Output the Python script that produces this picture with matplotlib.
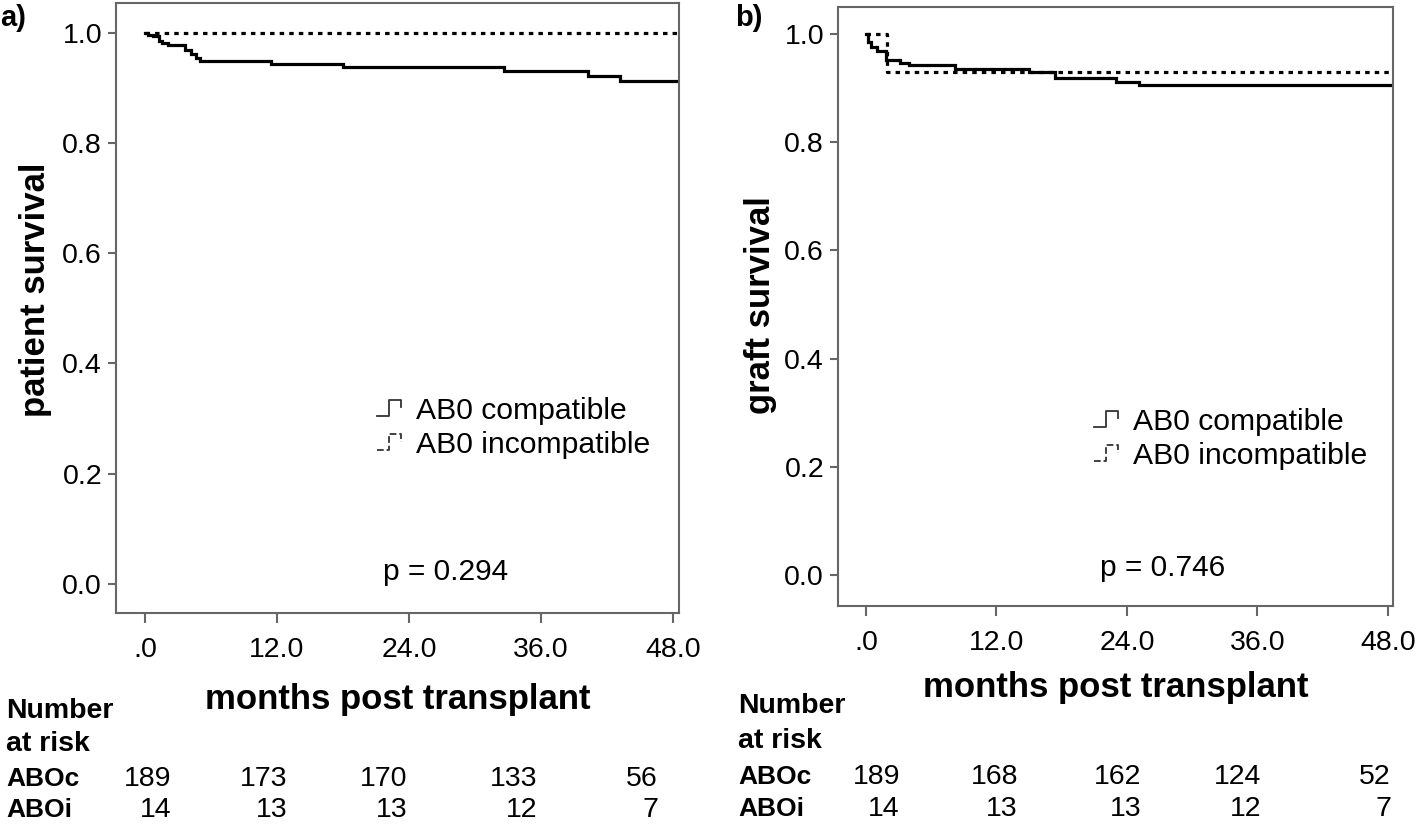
import matplotlib
matplotlib.use("Agg")
import matplotlib.pyplot as plt
from matplotlib.lines import Line2D
from matplotlib.legend_handler import HandlerBase

plt.rcParams['font.family'] = ['Liberation Sans', 'DejaVu Sans']

# ---------------- data ----------------
xticks = [0, 12, 24, 36, 48]
xticklabels = ['.0', '12.0', '24.0', '36.0', '48.0']
yticks = [0.0, 0.2, 0.4, 0.6, 0.8, 1.0]
yticklabels = ['0.0', '0.2', '0.4', '0.6', '0.8', '1.0']

# panel a: patient survival
a_c_time = [0, 0.3, 0.75, 1.24, 1.56, 2.05, 3.67, 4.16, 4.64, 4.97, 11.45, 18.0, 32.6, 40.3, 43.2, 48.5]
a_c_surv = [1.0, 0.996, 0.9935, 0.9857, 0.9818, 0.977, 0.969, 0.961, 0.955, 0.949, 0.944, 0.938, 0.931, 0.922, 0.912, 0.912]
a_i_time = [0, 48.5]
a_i_surv = [1.0, 1.0]
a_p = 'p = 0.294'

# panel b: graft survival
b_c_time = [0, 0.17, 0.5, 0.99, 1.81, 3.13, 3.94, 8.2, 14.95, 17.4, 23.0, 25.1, 48.5]
b_c_surv = [1.0, 0.985, 0.9756, 0.969, 0.9525, 0.947, 0.9426, 0.936, 0.9294, 0.918, 0.9115, 0.906, 0.906]
b_i_time = [0, 1.98, 48.5]
b_i_surv = [1.0, 0.929, 0.929]
b_p = 'p = 0.746'

groups = ['AB0 compatible', 'AB0 incompatible']
risk_rows = ['ABOc', 'ABOi']
a_risk_c = [189, 173, 170, 133, 56]
a_risk_i = [14, 13, 13, 12, 7]
b_risk_c = [189, 168, 162, 124, 52]
b_risk_i = [14, 13, 13, 12, 7]

# ---------------- layout ----------------
W, H = 1418, 824
fig = plt.figure(figsize=(W / 100, H / 100), dpi=100)

def fx(px):
    return px / W

def fy(py):
    return 1 - py / H

SPINE = '#666666'

class StepHandler(HandlerBase):
    def create_artists(self, legend, orig_handle, xdescent, ydescent,
                       width, height, fontsize, trans):
        xs = [-xdescent + width * f for f in (0.0, 0.5, 0.5, 1.0, 1.0)]
        ys = [-ydescent + height * f for f in (0.15, 0.15, 0.9, 0.9, 0.55)]
        ln = Line2D(xs, ys, color='#333333', linewidth=1.3,
                    linestyle=orig_handle.get_linestyle(), transform=trans)
        return [ln]


def panel(box, xlim, ylim, c_t, c_s, i_t, i_s, ylabel, ylab_xy, xlab_xy,
          leg_xy, p_text, p_xy, tag, tag_xy, risk_c, risk_i, cols, row_y,
          head_x):
    l, t, r, b = box
    ax = fig.add_axes([fx(l), fy(b), fx(r) - fx(l), fy(t) - fy(b)])
    ax.plot(c_t, c_s, drawstyle='steps-post', color='black',
            linewidth=2.3, solid_joinstyle='miter')
    ax.plot(i_t, i_s, drawstyle='steps-post', color='black',
            linewidth=2.3, linestyle=(0, (1.4, 1.6)),
            dash_capstyle='butt')
    ax.set_xlim(*xlim)
    ax.set_ylim(*ylim)
    ax.set_xticks(xticks)
    ax.set_xticklabels(xticklabels)
    ax.set_yticks(yticks)
    ax.set_yticklabels(yticklabels)
    for s in ax.spines.values():
        s.set_color(SPINE)
        s.set_linewidth(1.5)
    ax.tick_params(axis='x', direction='out', length=7.5, width=1.5,
                   color=SPINE, labelsize=20.5, pad=10)
    ax.tick_params(axis='y', direction='out', length=6, width=1.5,
                   color=SPINE, labelsize=20.5, pad=4)
    fig.text(fx(ylab_xy[0]), fy(ylab_xy[1]), ylabel, rotation=90,
             fontsize=25, fontweight='bold', ha='center', va='center')
    fig.text(fx(xlab_xy[0]), fy(xlab_xy[1]), 'months post transplant',
             fontsize=25, fontweight='bold', ha='center', va='center')
    h1s = Line2D([], [], linestyle='-')
    h2s = Line2D([], [], linestyle=(0, (1.5, 1.5)))
    fig.legend([h1s, h2s], groups, loc='center left',
               bbox_to_anchor=(fx(leg_xy[0]), fy(leg_xy[1])),
               frameon=False, fontsize=21.7, handlelength=0.8,
               handletextpad=0.5, labelspacing=0.22, borderpad=0,
               borderaxespad=0,
               handler_map={Line2D: StepHandler()})
    fig.text(fx(p_xy[0]), fy(p_xy[1]), p_text, fontsize=21.5,
             ha='left', va='center')
    fig.text(fx(tag_xy[0]), fy(tag_xy[1]), tag, fontsize=21,
             fontweight='bold', ha='left', va='center')
    fig.text(fx(head_x), fy(row_y[0]), 'Number', fontsize=20.5,
             fontweight='bold', ha='left', va='center')
    fig.text(fx(head_x), fy(row_y[1]), 'at risk', fontsize=20.5,
             fontweight='bold', ha='left', va='center')
    fig.text(fx(head_x), fy(row_y[2]), risk_rows[0], fontsize=19,
             fontweight='bold', ha='left', va='center')
    fig.text(fx(head_x), fy(row_y[3]), risk_rows[1], fontsize=19,
             fontweight='bold', ha='left', va='center')
    for cx, vc, vi in zip(cols, risk_c, risk_i):
        fig.text(fx(cx), fy(row_y[2]), str(vc), fontsize=20.5,
                 ha='right', va='center')
        fig.text(fx(cx), fy(row_y[3]), str(vi), fontsize=20.5,
                 ha='right', va='center')
    return ax


panel(box=(116, 3, 679, 613), xlim=(-2.64, 48.55), ylim=(-0.053, 1.054),
      c_t=a_c_time, c_s=a_c_surv, i_t=a_i_time, i_s=a_i_surv,
      ylabel='patient survival', ylab_xy=(36, 290), xlab_xy=(398, 699),
      leg_xy=(377, 428), p_text=a_p, p_xy=(383, 572), tag='a)',
      tag_xy=(0, 18), risk_c=a_risk_c, risk_i=a_risk_i,
      cols=[171, 287, 407, 537, 658], row_y=[711, 744, 779, 810],
      head_x=6)

panel(box=(838, 7, 1393, 606), xlim=(-2.57, 48.46), ylim=(-0.057, 1.05),
      c_t=b_c_time, c_s=b_c_surv, i_t=b_i_time, i_s=b_i_surv,
      ylabel='graft survival', ylab_xy=(760, 305), xlab_xy=(1116, 688),
      leg_xy=(1094, 439), p_text=b_p, p_xy=(1100, 568), tag='b)',
      tag_xy=(735, 18), risk_c=b_risk_c, risk_i=b_risk_i,
      cols=[900, 1018, 1141, 1261, 1391], row_y=[706, 741, 777, 809],
      head_x=738)

fig.savefig('out.png', dpi=100)
